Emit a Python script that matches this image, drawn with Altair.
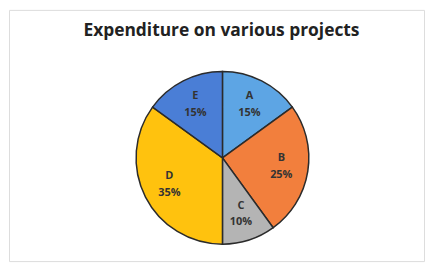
import altair as alt
import pandas as pd

projects = ["A", "B", "C", "D", "E"]
shares = [15, 25, 10, 35, 15]
labels = ["15%", "25%", "10%", "35%", "15%"]
colors = ["#5DA5E4", "#F27F3D", "#B4B4B4", "#FFC20E", "#4A7ED6"]

df = pd.DataFrame({"project": projects, "share": shares, "label": labels})

CX, CY, R = 215, 149, 87

base = alt.Chart(df).encode(
    theta=alt.Theta("share:Q", stack=True),
    order=alt.Order("project:N"),
    x=alt.value(CX),
    y=alt.value(CY),
)

arcs = base.mark_arc(radius=R, stroke="#2b2b2b", strokeWidth=1.5).encode(
    color=alt.Color("project:N", scale=alt.Scale(domain=projects, range=colors), legend=None)
)

letters = base.mark_text(radius=60, dy=-9, font="Open Sans", fontSize=11, fontWeight="bold", color="#333333").encode(
    text="project:N"
)
pcts = base.mark_text(radius=60, dy=8, font="Open Sans", fontSize=11, fontWeight="bold", color="#333333").encode(
    text="label:N"
)

title = alt.Chart(pd.DataFrame({"t": ["Expenditure on various projects"]})).mark_text(
    font="Open Sans", fontSize=17.5, fontWeight="bold", color="#222222"
).encode(text="t:N", x=alt.value(214), y=alt.value(21))

chart = (arcs + letters + pcts + title).properties(
    width=418, height=253, autosize=alt.AutoSizeParams(type="none"), padding=1
).configure_view(stroke="#a0a0a0", strokeWidth=1.5).configure(background="white")

chart.save("out.html", embed_options={"renderer": "svg", "actions": False})
